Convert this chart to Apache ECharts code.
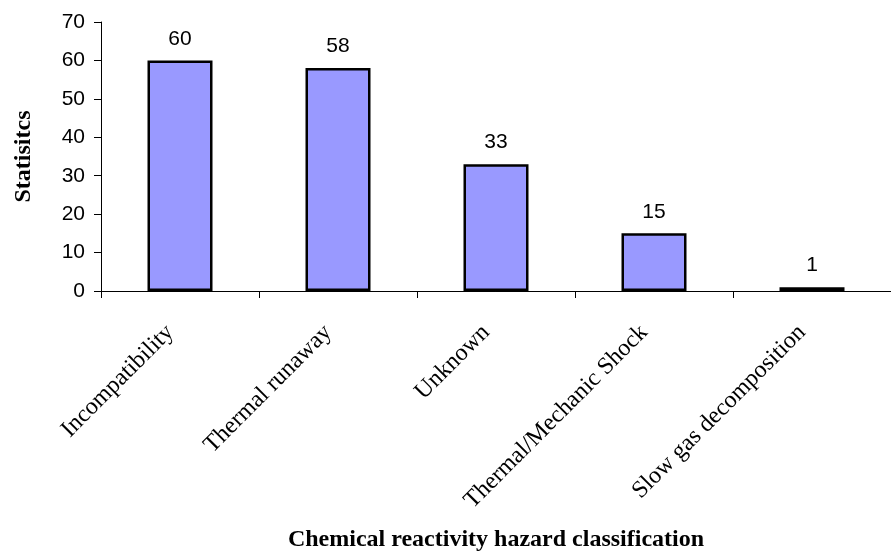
<!DOCTYPE html>
<html><head><meta charset="utf-8">
<script src="https://cdn.jsdelivr.net/npm/echarts@6/dist/echarts.min.js"></script>
<style>html,body{margin:0;padding:0;background:#fff}#c{width:891px;height:554px}</style>
</head><body><div id="c"></div>
<script>
const categories = ['Incompatibility', 'Thermal runaway', 'Unknown', 'Thermal/Mechanic Shock', 'Slow gas decomposition'];
const values = [60, 58, 33, 15, 1];
const yMin = 0, yMax = 70, yInterval = 10;

const chart = echarts.init(document.getElementById('c'), null, {renderer: 'canvas'});
chart.setOption({
  animation: false,
  backgroundColor: '#fff',
  grid: {left: 101, right: -8, top: 22, bottom: 263, containLabel: false},
  xAxis: {
    type: 'category',
    data: categories,
    boundaryGap: true,
    name: 'Chemical reactivity hazard classification',
    nameLocation: 'middle',
    nameGap: 237,
    nameTextStyle: {fontFamily: 'Liberation Serif', fontWeight: 'bold', fontSize: 24, color: '#000'},
    axisLine: {lineStyle: {color: '#000', width: 1}},
    axisTick: {show: true, length: 7, lineStyle: {color: '#000'}},
    axisLabel: {rotate: 45, margin: 28, padding: [0, 14, 0, 0], fontFamily: 'Liberation Serif', fontSize: 24, color: '#000', interval: 0}
  },
  yAxis: {
    type: 'value',
    min: yMin, max: yMax, interval: yInterval,
    name: 'Statisitcs',
    nameLocation: 'middle',
    nameGap: 65,
    nameRotate: 90,
    nameTextStyle: {fontFamily: 'Liberation Serif', fontWeight: 'bold', fontSize: 24, color: '#000'},
    axisLine: {show: true, lineStyle: {color: '#000', width: 1}},
    axisTick: {show: true, length: 7, lineStyle: {color: '#000'}},
    splitLine: {show: false},
    axisLabel: {margin: 16, fontFamily: 'Liberation Sans', fontSize: 21, color: '#000'}
  },
  series: [{
    type: 'bar',
    data: values,
    barWidth: 65,
    itemStyle: {color: '#9999FF', borderColor: '#000', borderWidth: 2.5},
    label: {show: true, position: 'top', distance: 11, fontFamily: 'Liberation Sans', fontSize: 21, color: '#000'}
  }]
});
</script></body></html>
